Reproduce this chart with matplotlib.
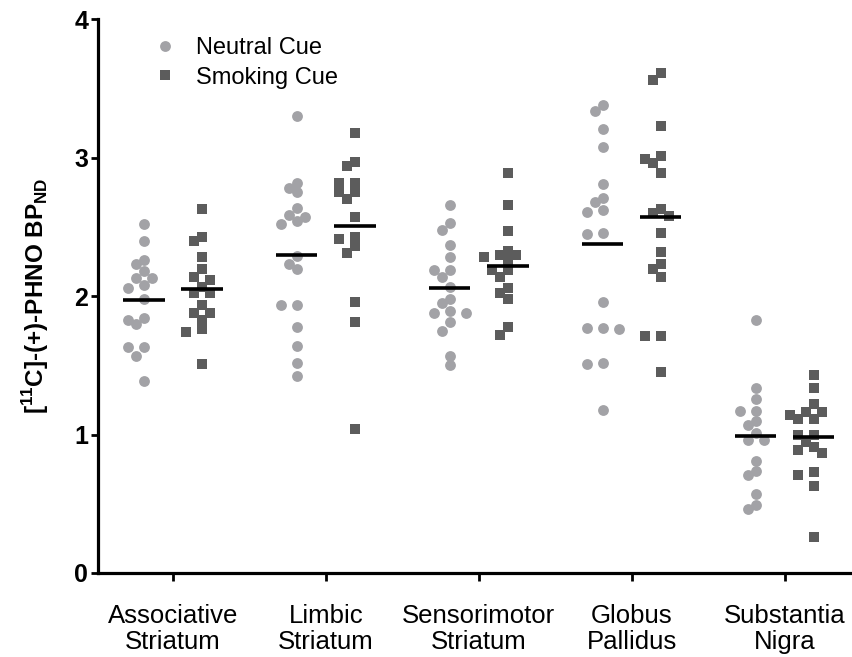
import numpy as np
import matplotlib
matplotlib.use("Agg")
import matplotlib.pyplot as plt
from matplotlib.lines import Line2D

plt.rcParams['font.family'] = ['Liberation Sans', 'DejaVu Sans']
plt.rcParams['mathtext.fontset'] = 'custom'
plt.rcParams['mathtext.rm'] = 'Liberation Sans'
plt.rcParams['mathtext.bf'] = 'Liberation Sans:bold'

regions = ["Associative\nStriatum", "Limbic\nStriatum", "Sensorimotor\nStriatum",
           "Globus\nPallidus", "Substantia\nNigra"]

neutral_assoc = [2.52, 2.40, 2.26, 2.23, 2.18, 2.13, 2.13, 2.06, 2.08, 1.98, 1.83, 1.84,
                 1.80, 1.63, 1.63, 1.57, 1.39]
neutral_limbic = [3.30, 2.82, 2.78, 2.75, 2.64, 2.59, 2.57, 2.54, 2.52, 2.29, 2.23, 2.20,
                  1.94, 1.94, 1.78, 1.64, 1.52, 1.42]
neutral_sensori = [2.66, 2.53, 2.48, 2.37, 2.28, 2.19, 2.19, 2.14, 2.07, 1.98, 1.95, 1.89,
                   1.88, 1.88, 1.81, 1.75, 1.57, 1.50]
neutral_gp = [3.38, 3.34, 3.21, 3.08, 2.81, 2.71, 2.68, 2.62, 2.61, 2.45, 2.46, 1.96,
              1.77, 1.76, 1.77, 1.52, 1.51, 1.18]
neutral_sn = [1.83, 1.34, 1.26, 1.17, 1.17, 1.10, 1.07, 1.01, 0.96, 0.96, 0.81, 0.74,
              0.71, 0.57, 0.46, 0.49]

smoking_assoc = [2.63, 2.40, 2.43, 2.28, 2.20, 2.14, 2.12, 2.07, 2.02, 2.02, 1.94, 1.88,
                 1.88, 1.83, 1.76, 1.74, 1.51]
smoking_limbic = [3.18, 2.97, 2.94, 2.82, 2.82, 2.75, 2.75, 2.70, 2.57, 2.43, 2.41, 2.36,
                  2.31, 1.96, 1.81, 1.04]
smoking_sensori = [2.89, 2.66, 2.47, 2.33, 2.30, 2.30, 2.28, 2.26, 2.19, 2.19, 2.14, 2.06,
                   2.02, 1.98, 1.78, 1.72]
smoking_gp = [3.61, 3.56, 3.23, 2.99, 3.01, 2.96, 2.89, 2.60, 2.63, 2.58, 2.46, 2.32,
              2.23, 2.20, 2.14, 1.71, 1.71, 1.45]
smoking_sn = [1.43, 1.34, 1.22, 1.16, 1.16, 1.14, 1.11, 1.11, 1.00, 1.00, 0.95, 0.91,
              0.87, 0.89, 0.73, 0.71, 0.63, 0.26]

neutral_means = [1.975, 2.30, 2.06, 2.38, 0.99]
smoking_means = [2.05, 2.51, 2.22, 2.57, 0.98]

neutral = [neutral_assoc, neutral_limbic, neutral_sensori, neutral_gp, neutral_sn]
smoking = [smoking_assoc, smoking_limbic, smoking_sensori, smoking_gp, smoking_sn]

NEUTRAL_COLOR = '#a2a2a6'
SMOKING_COLOR = '#5c5c5c'


def swarm_offsets(values, step, min_dist, y_scale):
    # simple beeswarm: put each point at the first free column
    order = np.argsort(values)[::-1]
    placed = []
    offsets = np.zeros(len(values))
    for i in order:
        y = values[i] * y_scale
        for k in [0, -1, 1, -2, 2, -3, 3]:
            x = k * step
            if all(np.hypot(x - px, y - py) >= min_dist for px, py in placed):
                break
        placed.append((x, y))
        offsets[i] = x
    return offsets


fig = plt.figure(figsize=(8.52, 6.57), dpi=100)
ax = fig.add_axes([98 / 852, 1 - 573 / 657, 1 - 98 / 852, (573 - 19.4) / 657])
ax.set_xlim(-0.49, 4.44)
ax.set_ylim(0, 4)

px_per_x = 754 / 4.93
px_per_y = 138.4
shift = 0.19
for i in range(len(regions)):
    for vals, mean, dx, marker, color in [(neutral[i], neutral_means[i], -shift, 'o', NEUTRAL_COLOR),
                                          (smoking[i], smoking_means[i], shift, 's', SMOKING_COLOR)]:
        vals = np.array(vals)
        offs = swarm_offsets(vals, 8.0, 8.5, px_per_y) / px_per_x
        ax.plot(i + dx + offs, vals, linestyle='none', marker=marker, ms=7.8,
                color=color, markeredgewidth=0, zorder=2)
        ax.hlines(mean, i + dx - 0.135, i + dx + 0.135, color='black', lw=2.6, zorder=3)

for side in ['top', 'right']:
    ax.spines[side].set_visible(False)
for side in ['left', 'bottom']:
    ax.spines[side].set_linewidth(2.3)

ax.set_xticks(range(len(regions)))
ax.set_xticklabels(regions)
for lbl in ax.get_xticklabels():
    lbl.set_linespacing(1.1)
ax.set_yticks([0, 1, 2, 3, 4])
ax.tick_params(axis='x', length=6, width=2, pad=16.5, labelsize=18.5)
ax.tick_params(axis='y', length=5, width=2, pad=2, labelsize=18)
for lbl in ax.get_yticklabels():
    lbl.set_fontweight('bold')

ax.set_ylabel(r'[$^{\mathbf{11}}$C]-(+)-PHNO BP$_{\mathbf{ND}}$', fontsize=17.5, fontweight='bold')
ax.yaxis.set_label_coords(-0.062, 0.5)

handles = [Line2D([], [], linestyle='none', marker='o', ms=7.8, color=NEUTRAL_COLOR, markeredgewidth=0),
           Line2D([], [], linestyle='none', marker='s', ms=7.8, color=SMOKING_COLOR, markeredgewidth=0)]
fig.legend(handles, ['Neutral Cue', 'Smoking Cue'], loc='upper left',
           bbox_to_anchor=(153 / 852, 1 - 37 / 657), frameon=False, fontsize=17,
           borderpad=0, borderaxespad=0, handlelength=1.0, handletextpad=0.8, labelspacing=0.32)

fig.savefig('out.png', dpi=100)
